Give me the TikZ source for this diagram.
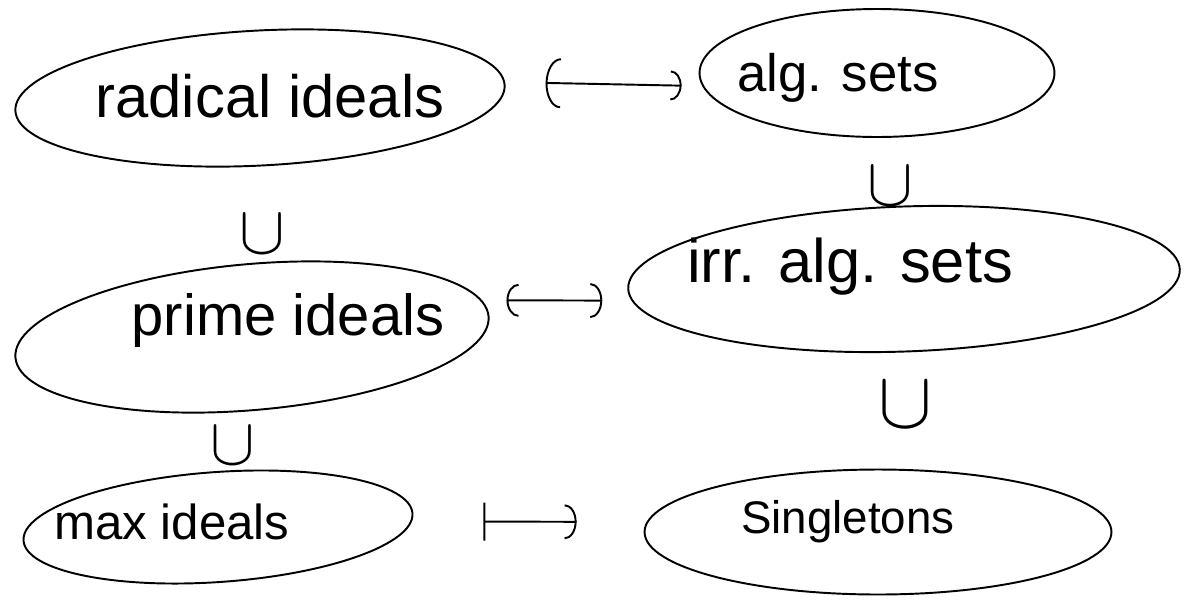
\documentclass[tikz,border=0pt]{standalone}
\usepackage{fontspec}
\setmainfont{Liberation Sans}
\usetikzlibrary{shapes.geometric,arrows.meta}

\tikzset{
  blob/.style={draw, ellipse, line width=1.1pt, inner sep=0pt},
  word/.style={inner sep=0pt, anchor=center},
  rel/.style={line width=1.1pt, line cap=round},
  incl/.style={inner sep=0pt}
}

\begin{document}
\begin{tikzpicture}[x=0.02cm, y=-0.02cm]
  \useasboundingbox (0,0) rectangle (1185,609);

  % set outlines
  \node[blob, minimum width=9.8cm, minimum height=2.7cm, rotate=3] (rad) at (260,98) {};
  \node[blob, minimum width=7.1cm, minimum height=2.56cm] (alg) at (877,73) {};
  \node[blob, minimum width=11.04cm, minimum height=2.9cm, rotate=2] (irr) at (904,279) {};
  \node[blob, minimum width=9.5cm, minimum height=2.92cm, rotate=5] (prime) at (252,337) {};
  \node[blob, minimum width=7.8cm, minimum height=2.2cm, rotate=4] (max) at (218,527) {};
  \node[blob, minimum width=9.34cm, minimum height=2.5cm] (sing) at (878,532) {};

  % labels
  \node[word, font=\fontsize{34}{40}\selectfont] (radT) at (270,96) {radical ideals};
  \node[word, font=\fontsize{30}{36}\selectfont] (algT) at (838,78) {alg. sets};
  \node[word, font=\fontsize{35}{40}\selectfont] (irrT) at (850,267) {irr. alg. sets};
  \node[word, font=\fontsize{33}{40}\selectfont] (primeT) at (288,320) {prime ideals};
  \node[word, font=\fontsize{28}{34}\selectfont] (maxT) at (172,522) {max ideals};
  \node[word, font=\fontsize{26}{32}\selectfont] (singT) at (848,522) {Singletons};

  % inclusions
  \node[incl] (i1) at (262,234) {\scalebox{3.9}{$\cup$}};
  \node[incl] (i2) at (890,186) {\scalebox{3.9}{$\cup$}};
  \node[incl] (i3) at (905,405) {\scalebox{4.6}{$\cup$}};
  \node[incl] (i4) at (233,446) {\scalebox{3.8}{$\cup$}};

  % correspondences
  \draw[rel, {Arc Barb[width=1cm,length=0.3cm]}-{Arc Barb[width=0.6cm,length=0.22cm]},
        shorten <=0.8cm, shorten >=0.34cm]
    ([yshift=0.06cm]rad.east) -- ([yshift=-0.26cm]alg.west);
  \draw[rel, {Arc Barb[width=0.66cm,length=0.24cm]}-{Arc Barb[width=0.7cm,length=0.24cm]},
        shorten <=0.34cm, shorten >=0.5cm]
    ([yshift=0.32cm]prime.east) -- ([yshift=-0.24cm]irr.west);
  \draw[rel, {Bar[width=0.76cm]}-{Arc Barb[width=0.7cm,length=0.24cm]},
        shorten <=1.4cm, shorten >=1.34cm]
    ([yshift=-0.16cm]max.east) -- ([yshift=0.2cm]sing.west);
\end{tikzpicture}
\end{document}
